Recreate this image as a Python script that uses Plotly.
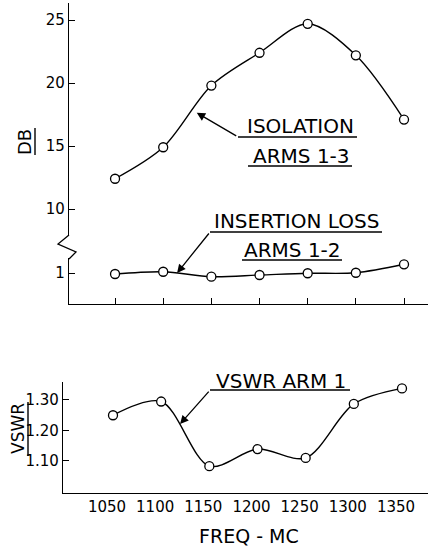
import plotly.graph_objects as go

# ---- data ----
freq_mc = [1050, 1100, 1150, 1200, 1250, 1300, 1350]
isolation_db = [12.4, 14.9, 19.8, 22.4, 24.7, 22.2, 17.1]
insertion_loss_db = [0.92, 1.10, 0.71, 0.84, 0.98, 1.02, 1.69]
vswr_arm1 = [1.25, 1.295, 1.083, 1.139, 1.11, 1.287, 1.338]

db_ticks = [10, 15, 20, 25]
il_ticks = [1]
vswr_ticks = [1.10, 1.20, 1.30]
vswr_ticktext = ["1.10", "1.20", "1.30"]

W, H = 428, 549
FONT = "DejaVu Sans"


def px(x):
    return x / W


def py(y):
    return 1 - y / H


line_style = dict(color="black", width=1.4, shape="spline", smoothing=0.9)
marker_style = dict(symbol="circle", size=9, color="white",
                    line=dict(color="black", width=1.3))

fig = go.Figure()
fig.add_trace(go.Scatter(x=freq_mc, y=isolation_db, mode="lines+markers",
                         line=line_style, marker=marker_style,
                         xaxis="x", yaxis="y", name="Isolation arms 1-3"))
fig.add_trace(go.Scatter(x=freq_mc, y=insertion_loss_db, mode="lines+markers",
                         line=line_style, marker=marker_style,
                         xaxis="x", yaxis="y2", name="Insertion loss arms 1-2"))
fig.add_trace(go.Scatter(x=freq_mc, y=vswr_arm1, mode="lines+markers",
                         line=line_style, marker=marker_style,
                         xaxis="x2", yaxis="y3", name="VSWR arm 1"))

axis_common = dict(showline=True, linecolor="black", linewidth=1.3,
                   showgrid=False, zeroline=False, ticks="inside",
                   tickcolor="black", tickwidth=1.2, ticklen=6,
                   tickfont=dict(family=FONT, size=15, color="black"))

fig.update_layout(
    width=W, height=H,
    margin=dict(l=0, r=0, t=0, b=0),
    paper_bgcolor="white", plot_bgcolor="white",
    showlegend=False,
    xaxis=dict(**axis_common, domain=[px(69), 1], range=[1002.2, 1374.9],
               anchor="y2", tickvals=freq_mc, showticklabels=False),
    yaxis=dict(**axis_common, domain=[py(236), py(3)], range=[7.857, 26.35],
               anchor="x", tickvals=db_ticks),
    yaxis2=dict(**axis_common, domain=[py(304), py(258)], range=[-1.46, 2.19],
                anchor="x", tickvals=il_ticks),
    xaxis2=dict(**{**axis_common, "ticks": ""}, domain=[px(63), 1],
                range=[998.1, 1377], anchor="y3", tickvals=freq_mc,
                ticklabelshift=-6),
    yaxis3=dict(**axis_common, domain=[py(493), py(382)], range=[0.995, 1.359],
                anchor="x2", tickvals=vswr_ticks, ticktext=vswr_ticktext),
)

# axis break zigzag on the dB axis
zig = [(69, 235), (58, 244), (76, 252), (69, 259)]
path = "M " + " L ".join(f"{px(a)},{py(b)}" for a, b in zig)
shapes = [dict(type="path", path=path, xref="paper", yref="paper",
               line=dict(color="black", width=1.3))]


def hline(x0, x1, y):
    return dict(type="line", xref="paper", yref="paper",
                x0=px(x0), x1=px(x1), y0=py(y), y1=py(y),
                line=dict(color="black", width=1.4))


def vline(x, y0, y1):
    return dict(type="line", xref="paper", yref="paper",
                x0=px(x), x1=px(x), y0=py(y0), y1=py(y1),
                line=dict(color="black", width=1.4))


shapes += [hline(238, 357, 137), hline(248, 352, 166),
           hline(210, 382, 232), hline(242, 342, 260),
           hline(210, 350, 390),
           vline(35, 128, 155), vline(28, 402, 456)]
fig.update_layout(shapes=shapes)

annots = []


def text(t, x, y, size=20, angle=0):
    annots.append(dict(text=t, x=px(x), y=py(y), xref="paper", yref="paper",
                       showarrow=False, xanchor="center", yanchor="middle",
                       textangle=angle,
                       font=dict(family=FONT, size=size, color="black")))


text("ISOLATION", 300, 126)
text("ARMS 1-3", 301, 156)
text("INSERTION LOSS", 296, 221)
text("ARMS 1-2", 292, 250)
text("VSWR ARM 1", 281, 381)
text("DB", 24, 142, size=18, angle=-90)
text("VSWR", 18, 429, size=17, angle=-90)
text("FREQ - MC", 249, 536, size=19)

arrow = dict(showarrow=True, arrowhead=2, arrowsize=1.3, arrowwidth=1.3,
             arrowcolor="black", text="", axref="pixel", ayref="pixel")
annots.append(dict(**arrow, x=1134.8, y=17.64, xref="x", yref="y", ax=41, ay=24))
annots.append(dict(**arrow, x=1114.4, y=1.0, xref="x", yref="y2", ax=33, ay=-41))
annots.append(dict(**arrow, x=1119.6, y=1.221, xref="x2", yref="y3", ax=30, ay=-34))
fig.update_layout(annotations=annots)

fig.write_html(
    "out.html",
    config={"displayModeBar": False},
    post_script="document.body.style.margin='0';document.body.style.padding='0';"
                "document.body.style.overflow='hidden';",
)
